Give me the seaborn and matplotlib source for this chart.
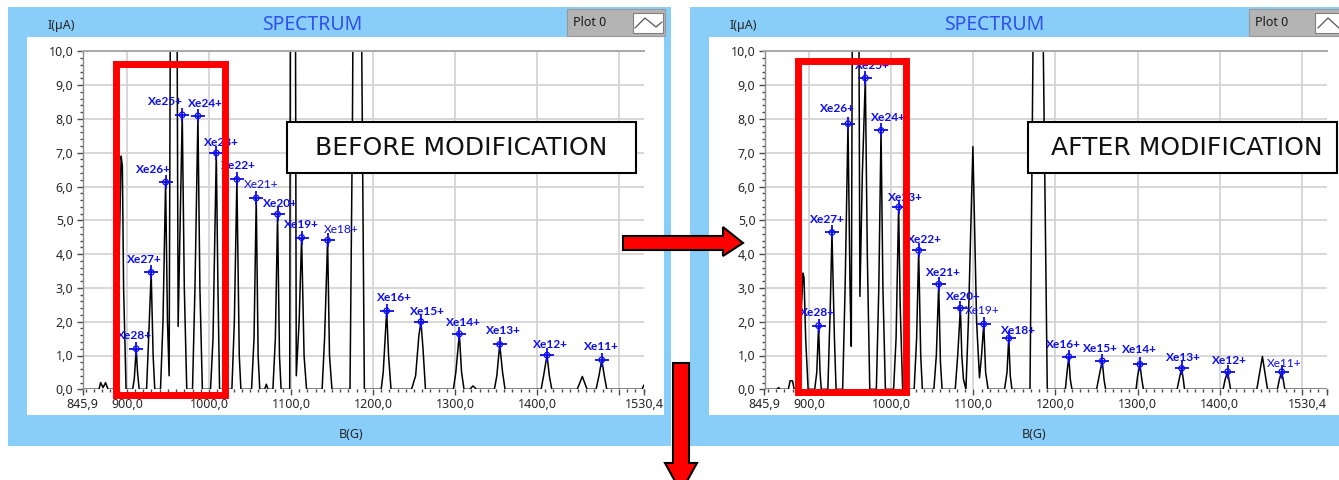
import matplotlib
matplotlib.use("Agg")
import matplotlib.pyplot as plt
import seaborn as sns
from matplotlib.patches import Rectangle, Polygon
from matplotlib.lines import Line2D
from matplotlib.ticker import FixedLocator, MultipleLocator, FuncFormatter

# ---------------------------------------------------------------------------
# Xenon charge-state spectrum, ion current I (uA) versus magnetic field B (G)
# ---------------------------------------------------------------------------

# Spectrum recorded before the source modification
B_BEFORE = [845.9, 866, 868, 871, 874, 877, 888, 891, 893, 894.5, 896, 899,
            907, 909, 911.4, 913, 915,
            924, 926.5, 929.6, 932, 934,
            941, 944, 947.2, 949.5, 951.5, 957, 962.5, 965, 967.5, 970, 973,
            980, 983, 986.6, 989, 992,
            1002, 1005, 1009.0, 1011, 1013,
            1028, 1031, 1034.1, 1037, 1039,
            1052, 1055, 1057.7, 1060, 1062,
            1068, 1070, 1072,
            1078, 1081, 1083.7, 1086, 1088,
            1098.5, 1102, 1106.5, 1110, 1113.0, 1116, 1119,
            1138, 1141, 1144.7, 1147, 1150,
            1172, 1175, 1180, 1189.5,
            1210, 1212.5, 1216.7, 1219, 1222,
            1247, 1252, 1256, 1258.5, 1261, 1264,
            1298, 1301, 1305.3, 1308, 1311,
            1318, 1322, 1326,
            1348, 1351, 1354.5, 1358, 1361,
            1405, 1408, 1412.2, 1415, 1418,
            1449, 1455.2, 1461,
            1472, 1475.5, 1478.9, 1482, 1485,
            1528, 1530.4]
I_BEFORE = [0.0, 0.0, 0.2, 0.05, 0.2, 0.0, 0.0, 4.5, 6.9, 6.6, 3.0, 0.0,
            0.0, 0.3, 1.2, 0.5, 0.0,
            0.0, 1.5, 3.46, 1.0, 0.0,
            0.0, 2.0, 6.13, 2.0, 0.4, 40.0, 1.86, 5.0, 8.12, 3.0, 0.0,
            0.0, 3.0, 8.09, 3.0, 0.0,
            0.0, 1.5, 6.99, 3.0, 0.0,
            0.0, 2.0, 6.21, 1.0, 0.0,
            0.0, 1.5, 5.66, 1.0, 0.0,
            0.0, 0.15, 0.0,
            0.0, 1.5, 5.18, 1.0, 0.0,
            0.0, 50.0, 0.4, 2.0, 4.49, 1.0, 0.0,
            0.0, 1.5, 4.41, 1.0, 0.0,
            0.0, 8.0, 30.0, 0.0,
            0.0, 0.5, 2.32, 1.0, 0.0,
            0.0, 0.4, 1.6, 2.0, 1.2, 0.0,
            0.0, 0.5, 1.64, 0.5, 0.0,
            0.0, 0.1, 0.0,
            0.0, 0.4, 1.33, 0.5, 0.0,
            0.0, 0.4, 1.01, 0.4, 0.0,
            0.0, 0.38, 0.0,
            0.0, 0.4, 0.87, 0.4, 0.0,
            0.0, 0.13]

# Spectrum recorded after the source modification
B_AFTER = [845.9, 861, 863, 865, 875, 877, 880, 882, 889, 891, 892.7, 894, 896, 899,
           907, 909.5, 911.7, 913.5, 915,
           923, 926, 928.0, 931, 933,
           941, 944, 947.5, 950, 951.5, 956.5, 962, 965, 968.6, 971, 974,
           982, 985, 987.7, 990, 993,
           1003, 1006, 1009.1, 1011, 1014,
           1028, 1031, 1033.5, 1036, 1038,
           1052, 1055, 1057.9, 1060, 1062,
           1078, 1081, 1084.3, 1086, 1088, 1091, 1094, 1099.5, 1104, 1107.5,
           1110, 1112.7, 1115, 1118,
           1138, 1141, 1143.1, 1145, 1147,
           1169, 1178, 1190,
           1212, 1214, 1216.2, 1218, 1220,
           1250, 1254, 1256.9, 1259, 1261,
           1298, 1300, 1302.7, 1305, 1307,
           1348, 1350.5, 1353.5, 1355.5, 1357,
           1404, 1406.5, 1409.5, 1411, 1413,
           1445, 1451.8, 1458,
           1470, 1472.5, 1475.3, 1477, 1479,
           1530.4]
I_AFTER = [0.0, 0.0, 0.05, 0.0, 0.0, 0.25, 0.25, 0.0, 0.0, 2.5, 3.44, 3.3, 1.5, 0.0,
           0.0, 0.5, 1.88, 0.5, 0.0,
           0.0, 2.5, 4.64, 1.5, 0.0,
           0.0, 3.0, 7.86, 3.0, 1.27, 40.0, 2.75, 6.4, 9.21, 4.0, 0.0,
           0.0, 3.0, 7.66, 3.0, 0.0,
           0.0, 1.5, 5.39, 2.5, 0.0,
           0.0, 1.5, 4.11, 1.0, 0.0,
           0.0, 1.0, 3.11, 0.8, 0.0,
           0.0, 1.0, 2.40, 1.0, 0.3, 0.0, 2.0, 7.18, 2.0, 0.34,
           1.0, 1.93, 0.5, 0.0,
           0.0, 0.5, 1.51, 0.4, 0.0,
           0.0, 25.0, 0.0,
           0.0, 0.5, 0.97, 0.3, 0.0,
           0.0, 0.5, 0.84, 0.3, 0.0,
           0.0, 0.4, 0.74, 0.3, 0.0,
           0.0, 0.3, 0.62, 0.3, 0.0,
           0.0, 0.3, 0.52, 0.3, 0.0,
           0.0, 0.97, 0.0,
           0.0, 0.3, 0.52, 0.3, 0.0,
           0.0]

# Identified xenon charge states (cursor positions on the peaks)
IONS = ["Xe28+", "Xe27+", "Xe26+", "Xe25+", "Xe24+", "Xe23+", "Xe22+", "Xe21+",
        "Xe20+", "Xe19+", "Xe18+", "Xe16+", "Xe15+", "Xe14+", "Xe13+", "Xe12+",
        "Xe11+"]
PEAK_B_BEFORE = [911.4, 929.6, 947.2, 967.5, 986.6, 1009.0, 1034.1, 1057.7,
                 1083.7, 1113.0, 1144.7, 1216.7, 1258.5, 1305.3, 1354.5, 1412.2,
                 1478.9]
PEAK_I_BEFORE = [1.20, 3.46, 6.13, 8.12, 8.09, 6.99, 6.21, 5.66,
                 5.18, 4.49, 4.41, 2.32, 2.00, 1.64, 1.33, 1.01,
                 0.87]
PEAK_B_AFTER = [911.7, 928.0, 947.5, 968.6, 987.7, 1009.1, 1033.5, 1057.9,
                1084.3, 1112.7, 1143.1, 1216.2, 1256.9, 1302.7, 1353.5, 1409.5,
                1475.3]
PEAK_I_AFTER = [1.88, 4.64, 7.86, 9.21, 7.66, 5.39, 4.11, 3.11,
                2.40, 1.93, 1.51, 0.97, 0.84, 0.74, 0.62, 0.52,
                0.52]

# Axis scales
X_TICKS = [845.9, 900.0, 1000.0, 1100.0, 1200.0, 1300.0, 1400.0, 1530.4]
X_GRID = [900, 1000, 1100, 1200, 1300, 1400, 1500]
Y_TICKS = [0, 1, 2, 3, 4, 5, 6, 7, 8, 9, 10]

# ---------------------------------------------------------------------------
# Layout (pixel units of the 1339 x 480 canvas, y measured from the top)
# ---------------------------------------------------------------------------
W, H = 1339, 480
FRAME_BLUE = "#89cdf9"
TITLE_BLUE = "#2f50ee"
CURSOR_BLUE = "#0c0cf0"
TEXT_SIZE = 9.0

# label offsets (px) relative to each cursor
OFFS_BEFORE = [(-2, -13), (-7, -13), (-12, -13), (-17, -13), (8, -12), (5, -11),
               (2, -14), (5, -13), (3, -11), (0, -13), (14, -11), (8, -13),
               (6, -10), (4, -11), (4, -14), (3, -11), (0, -13)]
OFFS_AFTER = [(-1, -13), (-5, -13), (-11, -15), (7, -13), (7, -13), (7, -10),
              (6, -11), (5, -12), (3, -12), (-1, -14), (10, -8), (-5, -12),
              (-2, -12), (0, -15), (2, -11), (2, -11), (2, -8)]
WEIGHT_BEFORE = ["bold"] * 7 + ["normal", "bold", "bold", "normal"] + ["bold"] * 6
WEIGHT_AFTER = ["bold"] * 9 + ["normal", "bold"] + ["bold"] * 5 + ["normal"]


def fig_box(x0, y0, x1, y1):
    return [x0 / W, 1 - y1 / H, (x1 - x0) / W, (y1 - y0) / H]


def fig_pt(x, y):
    return (x / W, 1 - y / H)


def add_rect(fig, x0, y0, x1, y1, **kw):
    r = Rectangle(fig_pt(x0, y1), (x1 - x0) / W, (y1 - y0) / H,
                  transform=fig.transFigure, **kw)
    fig.add_artist(r)
    return r


def comma(v, _pos=None):
    return f"{v:.1f}".replace(".", ",")


def draw_panel(fig, left, frame_right, white_right, ax_x0, ax_x1, title_x,
               ylab_x, xlab_x, legend_x0, legend_x1, icon_pts,
               B, I, pb, pi, offs, weights, last_label_right=False):
    # window background and white plot area
    add_rect(fig, left, 7, frame_right, 446, facecolor=FRAME_BLUE,
             edgecolor="none", zorder=-3)
    add_rect(fig, left + 19, 37, white_right, 415, facecolor="white",
             edgecolor="none", zorder=-2)

    ax = fig.add_axes(fig_box(ax_x0, 51.3, ax_x1, 389.3))
    ax.patch.set_alpha(0)
    ax.set_xlim(X_TICKS[0], X_TICKS[-1])
    ax.set_ylim(0, 10)

    for g in X_GRID:
        ax.axvline(g, color="#d4d4d4", lw=1.3, zorder=0)
    for g in Y_TICKS[1:]:
        ax.axhline(g, color="#d4d4d4", lw=1.3, zorder=0)

    sns.lineplot(x=B, y=I, sort=False, estimator=None, color="black",
                 lw=1.1, ax=ax, zorder=2)
    sns.scatterplot(x=pb, y=pi, marker="+", s=110, linewidth=1.3,
                    color=CURSOR_BLUE, ax=ax, zorder=3)
    sns.scatterplot(x=pb, y=pi, marker="o", s=16, linewidth=0.9,
                    facecolor="none", edgecolor=CURSOR_BLUE, ax=ax, zorder=3)
    for name, b, i, (dx, dy), w in zip(IONS, pb, pi, offs, weights):
        ax.annotate(name, xy=(b, i), xytext=(dx * 0.72, -dy * 0.72),
                    textcoords="offset points", ha="center", va="center",
                    fontsize=8.6, color=CURSOR_BLUE, fontweight=w,
                    family=["Lato", "DejaVu Sans"], zorder=4,
                    annotation_clip=False)

    ax.xaxis.set_major_locator(FixedLocator(X_TICKS + [1500.0]))
    ax.xaxis.set_major_formatter(
        FuncFormatter(lambda v, p: "" if v == 1500.0 else comma(v)))
    ax.xaxis.set_minor_locator(MultipleLocator(10))
    ax.yaxis.set_major_locator(FixedLocator(Y_TICKS))
    ax.yaxis.set_major_formatter(FuncFormatter(comma))
    ax.yaxis.set_minor_locator(MultipleLocator(0.2))
    ax.tick_params(which="major", length=4, width=1, color="#4a4a4a",
                   labelsize=TEXT_SIZE, labelcolor="#262626", pad=2.5)
    ax.tick_params(which="minor", length=2.5, width=1, color="#4a4a4a")
    ax.tick_params(axis="x", which="both", bottom=True, top=False)
    ax.tick_params(axis="y", which="both", left=True, right=False)
    for side in ("right", "bottom"):
        ax.spines[side].set_visible(False)
    ax.spines["top"].set_color("#a8a8a8")
    ax.spines["top"].set_linewidth(1.4)
    ax.spines["left"].set_color("#8a8a8a")
    ax.spines["left"].set_linewidth(1.0)
    ax.set_xlabel("")
    ax.set_ylabel("")
    if last_label_right:
        # the scale end sits at the window edge, keep its label inside
        fig.canvas.draw()
        for lab in ax.get_xticklabels():
            if lab.get_text() == comma(X_TICKS[-1]):
                lab.set_horizontalalignment("right")
                lab.set_x(X_TICKS[-1])

    # window texts
    fig.text(*fig_pt(title_x, 25.5), "SPECTRUM", ha="center", va="center",
             fontsize=14, color=TITLE_BLUE)
    fig.text(*fig_pt(ylab_x, 26), "I(µA)", ha="center", va="center",
             fontsize=TEXT_SIZE, color="#262626")
    fig.text(*fig_pt(xlab_x, 434), "B(G)", ha="center", va="center",
             fontsize=TEXT_SIZE, color="#262626")

    # plot legend
    add_rect(fig, legend_x0, 9, legend_x1, 36, facecolor="#b4b4b4",
             edgecolor="#999999", lw=0.8, zorder=3)
    fig.text(*fig_pt(legend_x0 + 6, 22.5), "Plot 0", ha="left", va="center",
             fontsize=TEXT_SIZE, color="#1a1a1a", zorder=4)
    add_rect(fig, legend_x0 + 66, 13, min(legend_x0 + 96, W), 33,
             facecolor="white", edgecolor="#808080", lw=0.8, zorder=4)
    xs = [fig_pt(x, y)[0] for x, y in icon_pts]
    ys = [fig_pt(x, y)[1] for x, y in icon_pts]
    fig.add_artist(Line2D(xs, ys, transform=fig.transFigure, color="#555555",
                          lw=0.9, zorder=5))
    return ax


sns.set_theme(style="white")
plt.rcParams["font.family"] = ["Noto Sans", "DejaVu Sans"]

fig = plt.figure(figsize=(W / 100, H / 100), dpi=100)
fig.patch.set_facecolor("white")

draw_panel(fig, 8, 671, 664, 82.5, 644, 312, 61, 351, 567, 665,
           [(635, 28), (645, 18), (656, 27), (662, 22)],
           B_BEFORE, I_BEFORE, PEAK_B_BEFORE, PEAK_I_BEFORE,
           OFFS_BEFORE, WEIGHT_BEFORE)
draw_panel(fig, 690, W, W, 764.5, 1327, 994, 743, 1034, 1249, W + 2,
           [(1318, 28), (1328, 18), (1339, 28)],
           B_AFTER, I_AFTER, PEAK_B_AFTER, PEAK_I_AFTER,
           OFFS_AFTER, WEIGHT_AFTER, last_label_right=True)

# highlighted region of the highest charge states
for x0, y0, x1, y1 in [(115.5, 63.5, 224.5, 394.5), (797.5, 60.5, 905.5, 391.5)]:
    add_rect(fig, x0, y0, x1, y1, fill=False, edgecolor="#ff0000", lw=5.0,
             joinstyle="miter", zorder=6)

# captions
for (x0, x1, tx), caption in zip([(287, 636, 461.5), (1028, 1337, 1187)],
                                 ["BEFORE MODIFICATION", "AFTER MODIFICATION"]):
    add_rect(fig, x0, 122, x1, 173, facecolor="white", edgecolor="black",
             lw=1.5, zorder=7)
    fig.text(*fig_pt(tx, 147.5), caption, ha="center", va="center",
             fontsize=18, color="#111111", zorder=8,
             family=["DejaVu Sans"])

# arrows
right_arrow = [(623, 236), (723, 236), (723, 227), (743, 243), (723, 256),
               (723, 250), (623, 250)]
down_arrow = [(673, 363), (689, 363), (689, 463), (697, 463), (681, 492),
              (665, 463), (673, 463)]
for pts in (right_arrow, down_arrow):
    fig.add_artist(Polygon([fig_pt(x, y) for x, y in pts], closed=True,
                           transform=fig.transFigure, facecolor="#ff0000",
                           edgecolor="black", lw=1.5, zorder=9))

fig.savefig("out.png", dpi=100)
